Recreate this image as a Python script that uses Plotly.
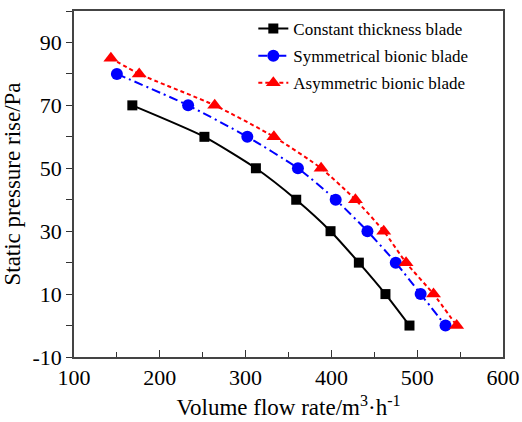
import plotly.graph_objects as go

# Data
const_x = [168, 252, 312, 359, 399, 432, 463, 491]
const_y = [70, 60, 50, 40, 30, 20, 10, 0]
sym_x = [150, 233, 302, 361, 405, 442, 475, 504, 533]
sym_y = [80, 70, 60, 50, 40, 30, 20, 10, 0]
asym_x = [143, 176, 264, 333, 388, 428, 461, 487, 519, 546]
asym_y = [85, 80, 70, 60, 50, 40, 30, 20, 10, 0]

x_ticks = [100, 200, 300, 400, 500, 600]
y_ticks = [-10, 10, 30, 50, 70, 90]

FONT = "Liberation Serif, Times New Roman, serif"

fig = go.Figure()
fig.add_trace(go.Scatter(
    x=const_x, y=const_y, mode="lines+markers", name="Constant thickness blade",
    line=dict(color="black", width=2, shape="spline", smoothing=0.6),
    marker=dict(symbol="square", size=10, color="black"), legendgroup="a"))
fig.add_trace(go.Scatter(
    x=sym_x, y=sym_y, mode="lines+markers", name="Symmetrical bionic blade",
    line=dict(color="#0000ff", width=2, dash="9px,4px,2px,4px", shape="spline", smoothing=0.6),
    marker=dict(symbol="circle", size=12, color="#0000ff"), legendgroup="b"))
fig.add_trace(go.Scatter(
    x=asym_x, y=asym_y, mode="lines+markers", name="Asymmetric bionic blade",
    line=dict(color="#ff0000", width=2, dash="4px,3px", shape="spline", smoothing=0.6),
    marker=dict(symbol="triangle-up", size=13, color="#ff0000"), legendgroup="c"))

fig.update_layout(
    width=522, height=422,
    margin=dict(l=74, r=19, t=11, b=65),
    paper_bgcolor="white", plot_bgcolor="white",
    font=dict(family=FONT, color="black", size=21),
    showlegend=True,
    legend=dict(x=0.418, y=1.0, xanchor="left", yanchor="top",
                bgcolor="rgba(0,0,0,0)", borderwidth=0,
                font=dict(family=FONT, size=17, color="black"),
                tracegroupgap=2),
)
fig.update_xaxes(
    range=[100, 600], tickvals=x_ticks, ticktext=[str(v) for v in x_ticks],
    automargin=False,
    ticks="inside", ticklen=7, tickwidth=1.2, tickcolor="#333",
    minor=dict(dtick=50, ticks="inside", ticklen=5, tickwidth=1.2, tickcolor="#333"),
    showline=True, linecolor="#444", linewidth=1.5, mirror=True,
    showgrid=False, zeroline=False,
    tickfont=dict(size=22),
    title=dict(text="Volume flow rate/m<sup>3</sup>·h<sup>-1</sup>", font=dict(size=23), standoff=10),
)
fig.update_yaxes(
    range=[-10, 100], tickvals=y_ticks, ticktext=[str(v) for v in y_ticks],
    automargin=False,
    ticks="outside", ticklen=6, tickwidth=1.2, tickcolor="#333",
    minor=dict(dtick=10, tick0=0, ticks="outside", ticklen=6, tickwidth=1.2, tickcolor="#333"),
    showline=True, linecolor="#444", linewidth=1.5, mirror=True,
    showgrid=False, zeroline=False,
    tickfont=dict(size=22),
    title=dict(text="Static pressure rise/Pa", font=dict(size=23), standoff=6),
)

fig.write_html("out.html")
